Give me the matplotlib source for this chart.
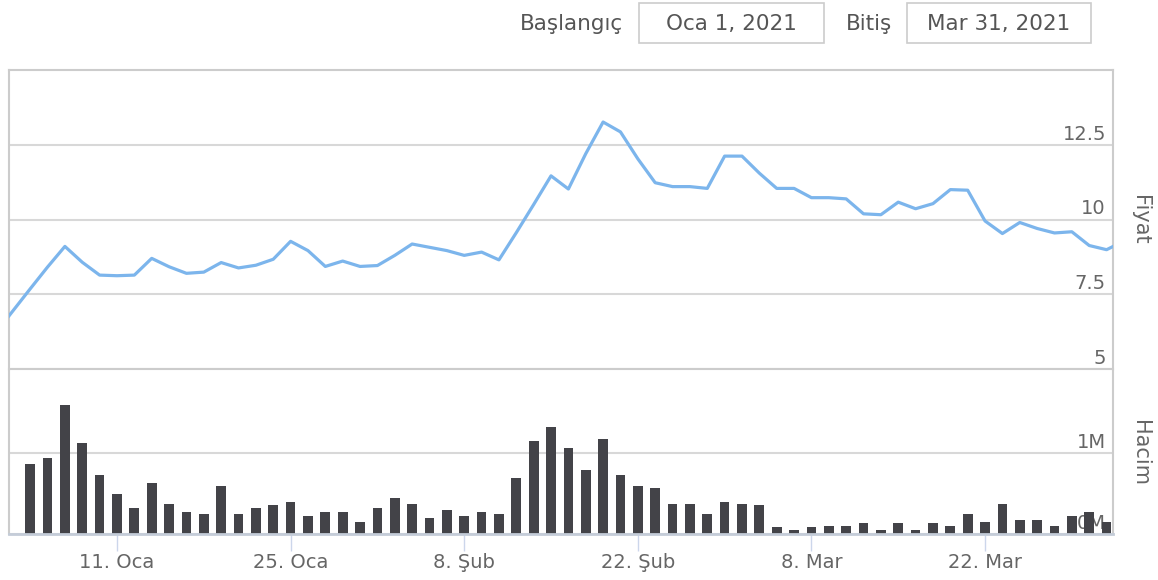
import numpy as np
import pandas as pd
import matplotlib
matplotlib.use("Agg")
import matplotlib.pyplot as plt
from matplotlib.patches import Rectangle
from matplotlib.transforms import offset_copy

#===========================================
#   Datos
#===========================================
# dias de bolsa: dos antes del rango y uno despues (la linea llega al borde)
dias = pd.bdate_range("2020-12-30", "2021-04-01", freq="C", holidays=["2021-01-01"])
inicio, fin = pd.Timestamp("2021-01-04"), pd.Timestamp("2021-03-31")

# precio de cierre para cada dia de `dias`
precio = [6.20, 6.94,
          7.68, 8.41, 9.10, 8.57, 8.14, 8.12, 8.14, 8.70, 8.42, 8.20,
          8.24, 8.56, 8.38, 8.47, 8.67, 9.27, 8.96, 8.43, 8.61, 8.43,
          8.46, 8.80, 9.18, 9.07, 8.96, 8.80, 8.91, 8.65, 9.56, 10.50,
          11.46, 11.02, 12.20, 13.26, 12.93, 12.03, 11.23, 11.10, 11.10, 11.04,
          12.12, 12.12, 11.55, 11.04, 11.04, 10.73, 10.73, 10.69, 10.19, 10.16,
          10.58, 10.36, 10.53, 11.00, 10.98, 9.95, 9.53, 9.90, 9.70, 9.55,
          9.59, 9.13, 8.99,
          9.28]

# volumen en millones, 4 ene .. 31 mar
volumen = [0.86, 0.93, 1.58, 1.12, 0.73, 0.49, 0.32, 0.63, 0.37, 0.27,
           0.25, 0.59, 0.25, 0.32, 0.35, 0.39, 0.22, 0.27, 0.27, 0.15,
           0.32, 0.44, 0.37, 0.20, 0.29, 0.22, 0.27, 0.25, 0.69, 1.14,
           1.31, 1.05, 0.79, 1.17, 0.73, 0.59, 0.56, 0.37, 0.37, 0.25,
           0.39, 0.37, 0.35, 0.08, 0.05, 0.08, 0.10, 0.10, 0.13, 0.05,
           0.13, 0.05, 0.13, 0.10, 0.25, 0.15, 0.37, 0.17, 0.17, 0.10,
           0.22, 0.27, 0.15]

precio_ticks = [5, 7.5, 10, 12.5]
precio_etiquetas = ["5", "7.5", "10", "12.5"]
volumen_ticks = [0, 1]
volumen_etiquetas = ["0M", "1M"]
fechas_ticks = pd.to_datetime(["2021-01-11", "2021-01-25", "2021-02-08",
                               "2021-02-22", "2021-03-08", "2021-03-22"])
meses = {1: "Oca", 2: "Şub", 3: "Mar"}

#===========================================
#   Eje ordinal (solo dias de bolsa)
#===========================================
x = np.arange(len(dias))
en_rango = (dias >= inicio) & (dias <= fin)
x_vol = x[en_rango]
x_tick = dias.get_indexer(fechas_ticks)
etiquetas_x = [f"{d.day}. {meses[d.month]}" for d in fechas_ticks]

#===========================================
#   Figura
#===========================================
W, H = 1158, 580
fig = plt.figure(figsize=(W / 100, H / 100), dpi=100)
plt.rcParams["font.family"] = ["DejaVu Sans"]


def caja(x0, y0, x1, y1):
    return [x0 / W, 1 - y1 / H, (x1 - x0) / W, (y1 - y0) / H]


gris_borde = "#cccccc"
gris_texto = "#666666"

ax1 = fig.add_axes(caja(9, 70, 1113, 369))
ax2 = fig.add_axes(caja(9, 371, 1113, 534), sharex=ax1)

# panel de precio
ax1.plot(x, precio, color="#7cb5ec", lw=2.3, solid_joinstyle="round", zorder=3)
ax1.set_ylim(5, 15)
ax1.set_yticks(precio_ticks)
ax1.grid(axis="y", color="#d8d8d8", lw=1.5)
ax1.set_xlim(x_vol[0] - 1.22, x_vol[-1] + 0.37)

# panel de volumen
ax2.bar(x_vol, volumen, width=0.56, color="#434348", zorder=3)
ax2.set_ylim(0, 2)
ax2.set_yticks(volumen_ticks)
ax2.grid(axis="y", color="#d8d8d8", lw=1.5)

for ax in (ax1, ax2):
    ax.set_axisbelow(True)
    ax.tick_params(axis="y", left=False, right=False, labelleft=False)
    for s in ax.spines.values():
        s.set_color(gris_borde)
        s.set_linewidth(1.5)

ax1.tick_params(axis="x", bottom=False, labelbottom=False)
ax2.spines["top"].set_visible(False)
ax2.spines["bottom"].set_color("#c4ccd8")
ax2.spines["bottom"].set_linewidth(2)
ax2.spines["bottom"].set_zorder(4)
ax2.set_xticks(x_tick)
ax2.set_xticklabels(etiquetas_x)
ax2.tick_params(axis="x", length=12.5, width=1, color="#ccd6eb",
                labelsize=14, labelcolor=gris_texto, pad=1)

# etiquetas del eje y, dentro del area, encima de la linea
for ax, ticks, etiquetas in ((ax1, precio_ticks, precio_etiquetas),
                             (ax2, volumen_ticks, volumen_etiquetas)):
    tr = offset_copy(ax.get_yaxis_transform(), fig=fig, x=-1.5, y=5, units="dots")
    for v, t in zip(ticks, etiquetas):
        ax.text(0.995, v, t, transform=tr, ha="right", va="baseline",
                fontsize=14, color=gris_texto, zorder=1)

# titulos de los ejes
fig.text(1140 / W, 1 - 219.5 / H, "Fiyat", rotation=270, ha="center",
         va="center", fontsize=15, color=gris_texto)
fig.text(1140 / W, 1 - 452.5 / H, "Hacim", rotation=270, ha="center",
         va="center", fontsize=15, color=gris_texto)

#===========================================
#   Selector de fechas
#===========================================
fig.text(520 / W, 1 - 30 / H, "Başlangıç", ha="left", va="baseline",
         fontsize=15.5, color="#555555")
fig.text(846 / W, 1 - 30 / H, "Bitiş", ha="left", va="baseline",
         fontsize=15.5, color="#555555")
for x0, x1, texto in ((639, 824, "Oca 1, 2021"), (907, 1091, "Mar 31, 2021")):
    fig.add_artist(Rectangle((x0 / W, 1 - 43 / H), (x1 - x0) / W, 40 / H,
                             transform=fig.transFigure, fill=False,
                             ec=gris_borde, lw=1.2))
    fig.text((x0 + x1) / 2 / W, 1 - 30 / H, texto, ha="center", va="baseline",
             fontsize=15.5, color="#555555")

fig.savefig("out.png", dpi=100)
